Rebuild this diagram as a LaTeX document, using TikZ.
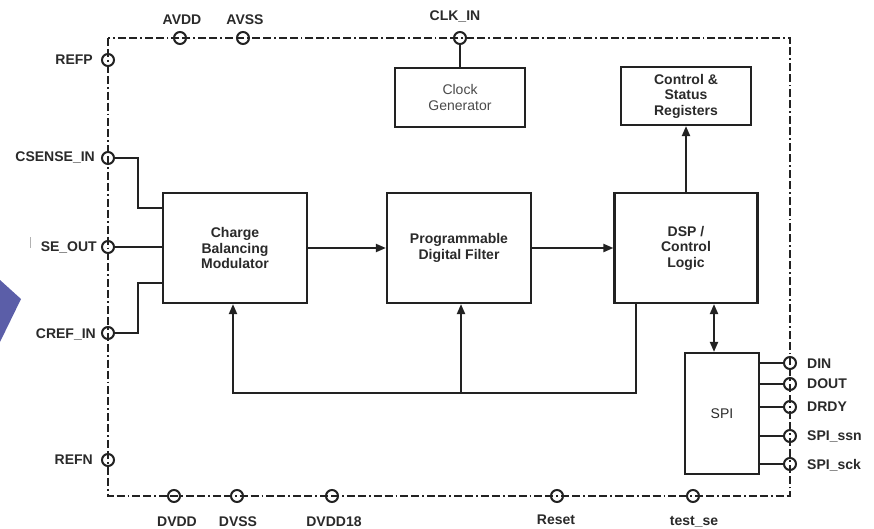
\documentclass[tikz,border=0pt]{standalone}
\usepackage{fontspec}
\setmainfont{Liberation Sans}
\usetikzlibrary{arrows.meta}
\definecolor{linec}{HTML}{222222}
\definecolor{textc}{HTML}{2A2A2A}
\definecolor{bluec}{HTML}{5B5EA8}
\tikzset{
  chipborder/.style={draw=linec, line width=1.8pt, dash pattern=on 8pt off 3pt on 8pt off 3pt on 1.8pt off 3pt},
  pinc/.style={circle, draw=linec, line width=2pt, minimum size=12pt, inner sep=0pt},
  lbl/.style={font=\fontsize{14}{16}\selectfont\bfseries, text=textc, inner sep=0pt, text height=10pt, text depth=0pt},
  block/.style={draw=linec, line width=2.2pt, fill=white, inner sep=0pt, align=center, text=textc, font=\fontsize{14}{15.5}\selectfont\bfseries},
  wire/.style={draw=linec, line width=2pt},
  arr/.style={wire, -{Triangle[length=10pt,width=8pt]}},
  darr/.style={wire, {Triangle[length=10pt,width=8pt]}-{Triangle[length=10pt,width=8pt]}}
}
\begin{document}
\begin{tikzpicture}[x=1pt,y=-1pt]
\useasboundingbox (0,0) rectangle (874,529);
\fill[white] (0,0) rectangle (874,529);
% decorative blue shape and mark at the left edge
\fill[bluec] (0,280) -- (21,299) -- (0,342) -- cycle;
\draw[gray!60, line width=0.8pt] (30,237) -- (30,248);
% chip border
\draw[chipborder] (108,38) rectangle (790,496);
% blocks
\node[block, minimum width=130, minimum height=59, font=\fontsize{14}{15.5}\selectfont, text=textc!85] (clk) at (460,97.5) {Clock\\Generator};
\node[block, minimum width=130, minimum height=58] (csr) at (686,96) {Control \&\\Status\\Registers};
\node[block, minimum width=144, minimum height=110] (cbm) at (235,248) {Charge\\Balancing\\Modulator};
\node[block, minimum width=144, minimum height=110] (pdf) at (459,248) {Programmable\\Digital Filter};
\node[block, minimum width=143, minimum height=110] (dsp) at (686,248) {DSP /\\Control\\Logic};
\node[block, minimum width=74, minimum height=121, font=\fontsize{14}{15.5}\selectfont, text=textc] (spi) at (722,413.5) {SPI};
% pins
\node[pinc] (avdd) at (180,38) {};
\node[pinc] (avss) at (243,38) {};
\node[pinc] (clkin) at (460,38) {};
\node[pinc] (refp) at (108,60) {};
\node[pinc] (csense) at (108,158) {};
\node[pinc] (seout) at (108,247) {};
\node[pinc] (cref) at (108,333) {};
\node[pinc] (refn) at (108,460) {};
\node[pinc] (dvdd) at (174,496) {};
\node[pinc] (dvss) at (237,496) {};
\node[pinc] (dvdd18) at (332,496) {};
\node[pinc] (reset) at (557,496) {};
\node[pinc] (testse) at (693,496) {};
\node[pinc] (din) at (790,363) {};
\node[pinc] (dout) at (790,384) {};
\node[pinc] (drdy) at (790,407) {};
\node[pinc] (ssn) at (790,436) {};
\node[pinc] (sck) at (790,464) {};
% pin labels
\node[lbl] (lavdd) at (182,20) {AVDD};
\node[lbl] (lavss) at (245,20) {AVSS};
\node[lbl] (lclkin) at (455,16) {CLK\_IN};
\node[lbl, anchor=east] (lrefp) at (93,60) {REFP};
\node[lbl, anchor=east] (lcsense) at (95,157) {CSENSE\_IN};
\node[lbl, anchor=east] (lseout) at (97,246) {SE\_OUT};
\node[lbl, anchor=east] (lcref) at (96,333) {CREF\_IN};
\node[lbl, anchor=east] (lrefn) at (93,459) {REFN};
\node[lbl] (ldvdd) at (177,521) {DVDD};
\node[lbl] (ldvss) at (238,521) {DVSS};
\node[lbl] (ldvdd18) at (334,521) {DVDD18};
\node[lbl] (lreset) at (556,519) {Reset};
\node[lbl] (ltestse) at (694,520) {test\_se};
\node[lbl, anchor=west] (ldin) at (807,363) {DIN};
\node[lbl, anchor=west] (ldout) at (807,383) {DOUT};
\node[lbl, anchor=west] (ldrdy) at (807,406) {DRDY};
\node[lbl, anchor=west] (lssn) at (807,435) {SPI\_ssn};
\node[lbl, anchor=west] (lsck) at (807,464) {SPI\_sck};
% coordinates
\coordinate (jx) at (138,0);
\coordinate (j1) at (163,208);
\coordinate (j3) at (163,283);
\coordinate (xa) at (714,0);
\coordinate (fbR) at (636,393);
\coordinate (fbL) at (233,393);
\coordinate (fbM) at (461,393);
% connectors
\draw[wire] (clkin.south) -- (clk.north);
\draw[arr] (dsp) -- (csr);
\draw[arr] (cbm) -- (pdf);
\draw[arr] (pdf) -- (dsp);
\draw[darr] (dsp.south -| xa) -- (spi.north -| xa);
\draw[arr] (dsp.south -| fbR) -- (fbR) -- (fbL) -- (cbm.south -| fbL);
\draw[arr] (fbM) -- (pdf.south -| fbM);
\draw[wire] (csense.east) -- (csense -| jx) |- (j1);
\draw[wire] (seout.east) -- (seout -| cbm.west);
\draw[wire] (cref.east) -- (cref -| jx) |- (j3);
\draw[wire] (din -| spi.east) -- (din.west);
\draw[wire] (dout -| spi.east) -- (dout.west);
\draw[wire] (drdy -| spi.east) -- (drdy.west);
\draw[wire] (ssn -| spi.east) -- (ssn.west);
\draw[wire] (sck -| spi.east) -- (sck.west);
\end{tikzpicture}
\end{document}
